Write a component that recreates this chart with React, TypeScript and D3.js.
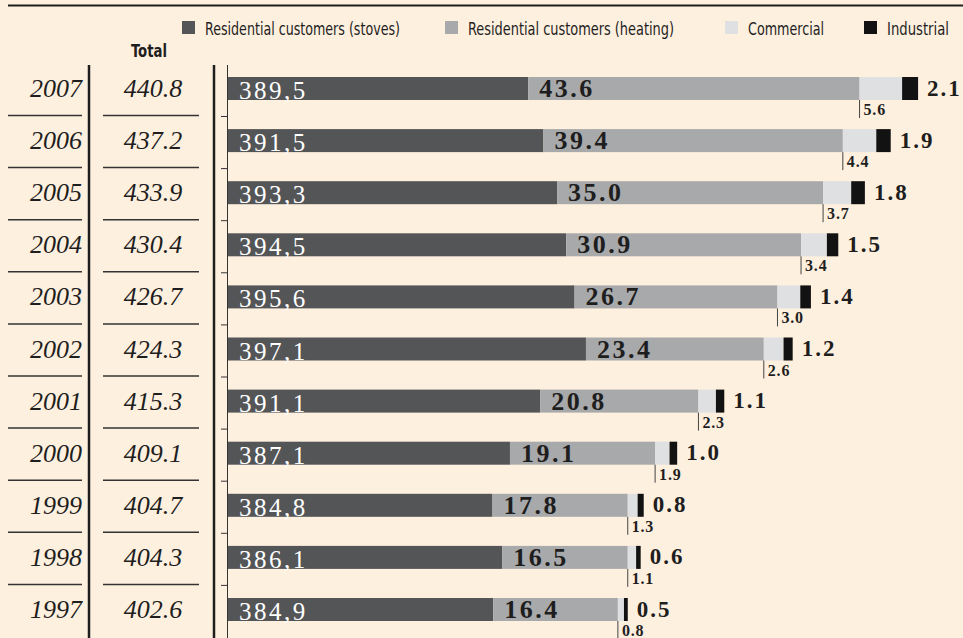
import React from "react";
import * as d3 from "d3";

const years = ["2007", "2006", "2005", "2004", "2003", "2002", "2001", "2000", "1999", "1998", "1997"];
const totals = [440.8, 437.2, 433.9, 430.4, 426.7, 424.3, 415.3, 409.1, 404.7, 404.3, 402.6];
const stoves = [389.5, 391.5, 393.3, 394.5, 395.6, 397.1, 391.1, 387.1, 384.8, 386.1, 384.9];
const heating = [43.6, 39.4, 35.0, 30.9, 26.7, 23.4, 20.8, 19.1, 17.8, 16.5, 16.4];
const commercial = [5.6, 4.4, 3.7, 3.4, 3.0, 2.6, 2.3, 1.9, 1.3, 1.1, 0.8];
const industrial = [2.1, 1.9, 1.8, 1.5, 1.4, 1.2, 1.1, 1.0, 0.8, 0.6, 0.5];

const seriesNames = [
  "Residential customers (stoves)",
  "Residential customers (heating)",
  "Commercial",
  "Industrial",
];
const seriesColors = ["#545557", "#a8a9aa", "#dfe0e1", "#121212"];

const W = 963;
const H = 638;
const BG = "#fef0df";
const INK = "#1e1e1e";
const SERIF = "Liberation Serif, Times New Roman, Times, serif";
const SANS = "Liberation Sans Narrow, DejaVu Sans Condensed, Roboto, sans-serif";

export default function App() {
  const x = d3.scaleLinear().domain([350, 445]).range([228, 228 + 95 * 7.6]);
  const y = d3.scalePoint<string>().domain(years).range([88.5, 609.5]);
  const barH = 23;

  const legendX = [182, 445, 725, 864];
  const legendLen = [195, 206, 76, 62];

  const rows = years.map((yr, i) => {
    const s0 = 350;
    const s1 = stoves[i];
    const h1 = s1 + heating[i];
    const c1 = h1 + commercial[i];
    const i1 = c1 + industrial[i];
    return { yr, i, cy: y(yr) as number, segs: [[s0, s1], [s1, h1], [h1, c1], [c1, i1]] };
  });

  return (
    <svg
      width={W}
      height={H}
      style={{ position: "absolute", left: 0, top: 0, display: "block", background: BG }}
    >
      <rect x={0} y={0} width={W} height={H} fill={BG} />
      <line x1={8} x2={W} y1={5.5} y2={5.5} stroke={INK} strokeWidth={2} />

      {seriesNames.map((n, k) => (
        <g key={n}>
          <rect x={legendX[k]} y={21} width={13} height={13} fill={seriesColors[k]} />
          <text
            x={legendX[k] + 23}
            y={34.5}
            fontFamily={SANS}
            fontSize={18}
            fill={INK}
            textLength={legendLen[k]}
            lengthAdjust="spacingAndGlyphs"
          >
            {n}
          </text>
        </g>
      ))}

      <text x={131} y={57} fontFamily={SANS} fontWeight="bold" fontSize={18} fill={INK} textLength={36} lengthAdjust="spacingAndGlyphs">
        Total
      </text>

      <line x1={89} x2={89} y1={65} y2={H} stroke={INK} strokeWidth={2.5} />
      <line x1={214} x2={214} y1={65} y2={H} stroke={INK} strokeWidth={2.5} />
      <line x1={227.5} x2={227.5} y1={65} y2={H} stroke="#333" strokeWidth={1} />

      {rows.map((r) => {
        const top = r.cy - barH / 2;
        const bottom = r.cy + barH / 2;
        const last = r.i === years.length - 1;
        const comStart = x(r.segs[2][0]);
        const indEnd = x(r.segs[3][1]);
        return (
          <g key={r.yr}>
            <text x={82} y={r.cy + 8.5} textAnchor="end" fontFamily={SERIF} fontStyle="italic" fontSize={26} fill={INK}>
              {r.yr}
            </text>
            <text x={153} y={r.cy + 8.5} textAnchor="middle" fontFamily={SERIF} fontStyle="italic" fontSize={26} fill={INK}>
              {totals[r.i].toFixed(1)}
            </text>
            {!last && (
              <g>
                <line x1={8} x2={82} y1={r.cy + 27} y2={r.cy + 27} stroke="#333" strokeWidth={1.5} />
                <line x1={103} x2={199} y1={r.cy + 27} y2={r.cy + 27} stroke="#333" strokeWidth={1.5} />
                <line x1={221} x2={228} y1={r.cy + 28} y2={r.cy + 28} stroke="#333" strokeWidth={1} />
              </g>
            )}
            {r.segs.map((s, k) => (
              <rect key={k} x={x(s[0])} y={top} width={x(s[1]) - x(s[0])} height={barH} fill={seriesColors[k]} />
            ))}
            <text x={239} y={bottom - 1} fontFamily={SERIF} fontSize={25} fill="#ffffff" letterSpacing={2.5}>
              {stoves[r.i].toFixed(1).replace(".", ",")}
            </text>
            <text x={x(r.segs[1][0]) + 11} y={bottom - 3} fontFamily={SERIF} fontWeight="bold" fontSize={26} fill={INK} letterSpacing={2.5}>
              {heating[r.i].toFixed(1)}
            </text>
            <line x1={comStart} x2={comStart} y1={bottom} y2={bottom + 18} stroke="#444" strokeWidth={1} />
            <text x={comStart + 4} y={bottom + 15} fontFamily={SERIF} fontWeight="bold" fontSize={16} fill={INK} letterSpacing={0.8}>
              {commercial[r.i].toFixed(1)}
            </text>
            <text x={indEnd + 9} y={r.cy + 7} fontFamily={SERIF} fontWeight="bold" fontSize={23} fill={INK} letterSpacing={2}>
              {industrial[r.i].toFixed(1)}
            </text>
          </g>
        );
      })}
    </svg>
  );
}
